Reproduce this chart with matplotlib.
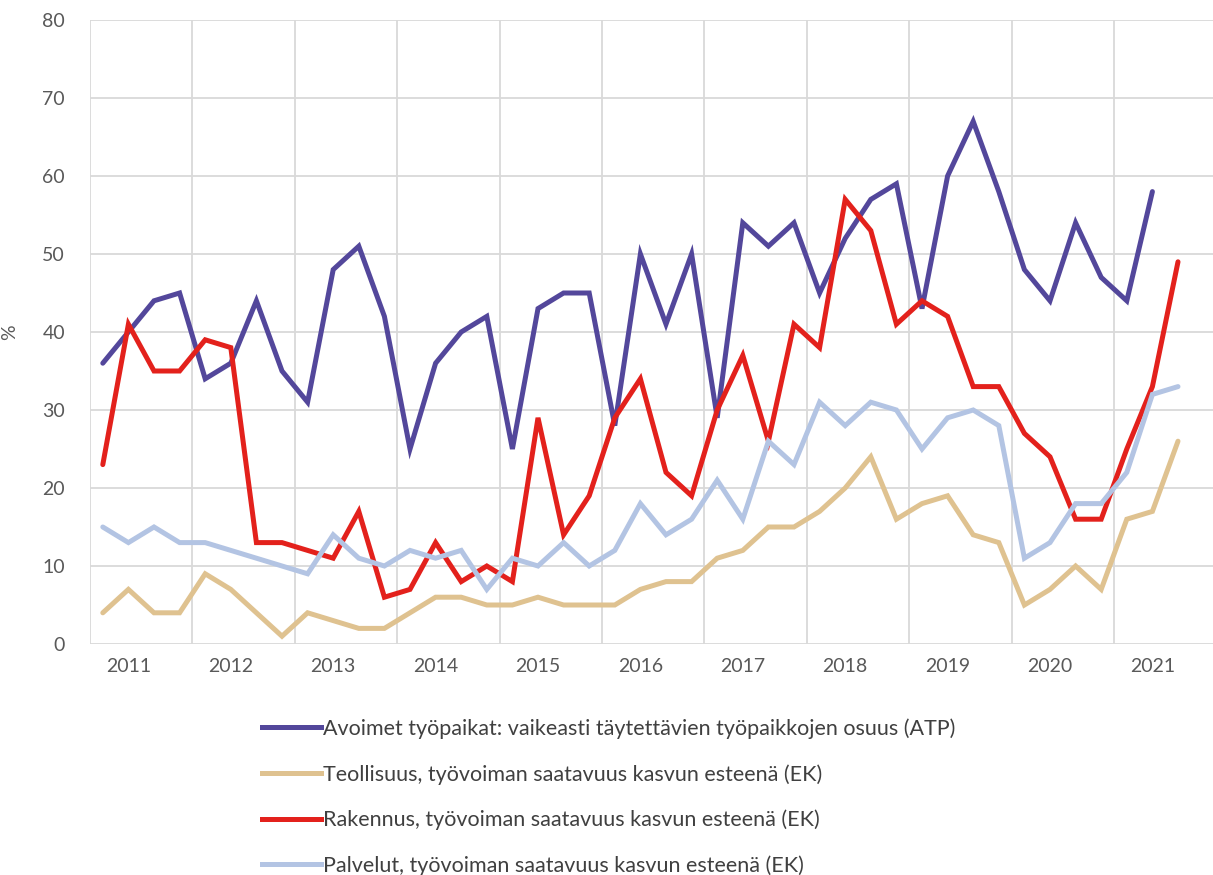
#!/usr/bin/env python3
import numpy as np
import matplotlib.pyplot as plt
from matplotlib.lines import Line2D

plt.rcParams['font.family'] = ['Lato', 'DejaVu Sans']

# neljännesvuosidata 2011Q1 - 2021Q3
years = ["2011", "2012", "2013", "2014", "2015", "2016", "2017", "2018", "2019", "2020", "2021"]

atp = [36, 40, 44, 45, 34, 36, 44, 35, 31, 48, 51, 42, 25, 36, 40, 42, 25, 43, 45, 45,
       28, 50, 41, 50, 29, 54, 51, 54, 45, 52, 57, 59, 43, 60, 67, 58, 48, 44, 54, 47,
       44, 58]
teollisuus = [4, 7, 4, 4, 9, 7, 4, 1, 4, 3, 2, 2, 4, 6, 6, 5, 5, 6, 5, 5,
              5, 7, 8, 8, 11, 12, 15, 15, 17, 20, 24, 16, 18, 19, 14, 13, 5, 7, 10, 7,
              16, 17, 26]
rakennus = [23, 41, 35, 35, 39, 38, 13, 13, 12, 11, 17, 6, 7, 13, 8, 10, 8, 29, 14, 19,
            29, 34, 22, 19, 30, 37, 26, 41, 38, 57, 53, 41, 44, 42, 33, 33, 27, 24, 16, 16,
            25, 33, 49]
palvelut = [15, 13, 15, 13, 13, 12, 11, 10, 9, 14, 11, 10, 12, 11, 12, 7, 11, 10, 13, 10,
            12, 18, 14, 16, 21, 16, 26, 23, 31, 28, 31, 30, 25, 29, 30, 28, 11, 13, 18, 18,
            22, 32, 33]

labels = ["Avoimet työpaikat: vaikeasti täytettävien työpaikkojen osuus (ATP)",
          "Teollisuus, työvoiman saatavuus kasvun esteenä (EK)",
          "Rakennus, työvoiman saatavuus kasvun esteenä (EK)",
          "Palvelut, työvoiman saatavuus kasvun esteenä (EK)"]
colors = ["#53479b", "#dfc290", "#e3211c", "#b3c4e3"]

W, H = 1213, 875
fig = plt.figure(figsize=(W / 100, H / 100), dpi=100)
ax = fig.add_axes([90 / W, 1 - 644 / H, (W - 90) / W, 624 / H])

for series, c in zip([atp, teollisuus, rakennus, palvelut], colors):
    ax.plot(np.arange(len(series)), series, color=c, lw=3.6,
            solid_joinstyle='miter', solid_capstyle='round', zorder=3)

ax.set_ylim(0, 80)
ax.set_yticks(range(0, 81, 10))
ax.set_xlim(-0.5, -0.5 + (W - 90) / 25.6)

bounds = np.arange(len(years) + 1) * 4 - 0.5
for b in bounds:
    ax.axvline(b, color="#d9d9d9", lw=1.3, zorder=1)
ax.yaxis.grid(True, color="#d9d9d9", lw=1.3, zorder=1)
ax.set_axisbelow(True)
ax.set_xticks(np.arange(len(years)) * 4 + 1)
ax.set_xticklabels(years)
ax.tick_params(length=0, labelsize=14, colors="#595959", pad=10)
ax.tick_params(axis='y', pad=18)
for s in ax.spines.values():
    s.set_visible(False)

ax.set_ylabel("%", fontsize=14, color="#595959")
ax.yaxis.set_label_coords((18 - 90) / (W - 90), (644 - 332) / 624)

handles = [Line2D([], [], color=c, lw=3.6) for c in colors]
fig.legend(handles, labels, loc='upper left', bbox_to_anchor=(243 / W, 1 - 699 / H),
           frameon=False, fontsize=15.5, handlelength=2.7, handletextpad=0.1,
           labelspacing=1.16, labelcolor="#404040")

plt.savefig('out.png', dpi=100)
